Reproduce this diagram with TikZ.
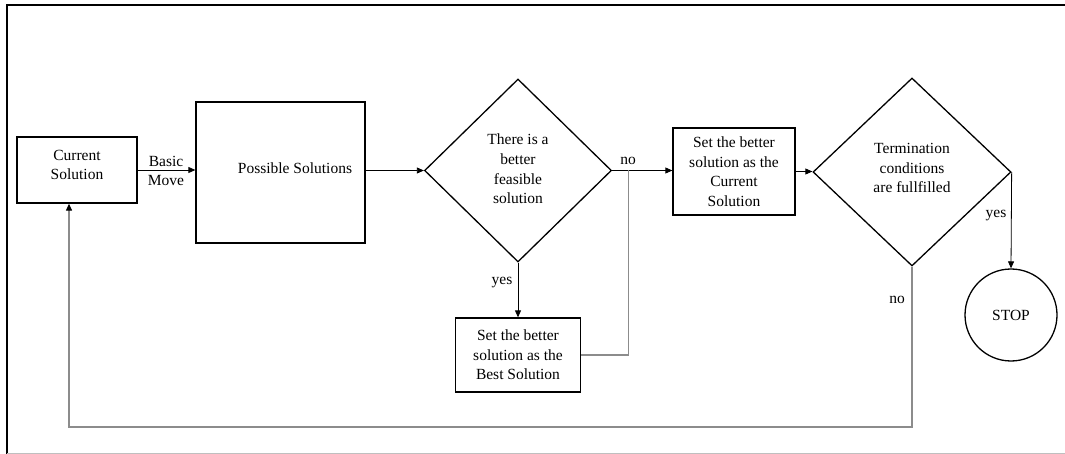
\documentclass[tikz,border=0pt]{standalone}
\usepackage{fontspec}
\setmainfont{Liberation Serif}
\usetikzlibrary{shapes.geometric,arrows.meta,calc}
\newcommand\fsz{\fontsize{15.5}{19.6}\selectfont}
\definecolor{linegray}{RGB}{140,140,140}
\begin{document}
\begin{tikzpicture}[x=1pt,y=-1pt,
  box/.style={draw, line width=1.3pt, align=center, inner sep=0pt, font=\fsz},
  dia/.style={draw, diamond, line width=1.3pt, inner sep=0pt, align=center, font=\fsz},
  lbl/.style={inner sep=0pt, align=center, font=\fsz},
  conn/.style={line width=0.8pt, -{Triangle[length=7pt,width=6pt]}},
  gconn/.style={line width=1.1pt, draw=linegray},
  gconnarr/.style={line width=1.1pt, draw=linegray, -{Triangle[length=7pt,width=6pt,color=black]}}
]
\useasboundingbox (0,0) rectangle (1065,454);
% frame
\draw[line width=2pt] (7,454) -- (7,5) -- (1065,5);
\draw[line width=1pt, black!25] (7,453) -- (1065,453);

% nodes
\node[box, minimum width=120pt, minimum height=66pt] (cur) at (77,170) {};
\node[lbl] (curt) at (77,165) {Current\\Solution};
\node[box, minimum width=169pt, minimum height=141pt] (ps) at (280.5,172.5) {};
\node[lbl] (pst) at (295,168) {Possible Solutions};
\node[dia, minimum width=187pt, minimum height=183pt] (d1) at (518,170.5) {};
\node[lbl] (d1t) at (518,169) {There is a\\better\\feasible\\solution};
\node[box, minimum width=122pt, minimum height=87pt] (cs) at (734,171.5) {Set the better\\solution as the\\Current\\Solution};
\node[box, minimum width=125pt, minimum height=74pt] (best) at (518,355) {Set the better\\solution as the\\Best Solution};
\node[dia, minimum width=198pt, minimum height=188pt] (d2) at (912,172) {};
\node[lbl] (d2t) at (912,168) {Termination\\conditions\\are fullfilled};
\node[draw, circle, line width=1.3pt, minimum size=92pt, inner sep=0pt, font=\fsz] (stop) at (1011,315) {STOP};

% connectors
\draw[conn] (cur.east) -- (cur.east -| ps.west);
\node[lbl] (bm) at (166,171) {Basic\\Move};
\draw[conn] (d1.west -| ps.east) -- (d1.west);
\draw[conn] (d1.east) -- (d1.east -| cs.west);
\node[lbl] (no1) at (628,161) {no};
\coordinate (j) at ($(d1.east)+(16,0)$);
\draw[gconn] (best.east) -- (best.east -| j) -- (j);
\draw[conn] (d1.south) -- (best.north);
\node[lbl] (yes1) at (502,283) {yes};
\draw[conn] (cs.east) -- (cs.east -| d2.west);
\draw[conn] (d2.east) -- (stop.north);
\node[lbl] (yes2) at (996,216) {yes};
\coordinate (fb) at (69,427);
\draw[gconnarr] (d2.south) |- (fb) -- (fb |- cur.south);
\node[lbl] (no2) at (897,300) {no};
\end{tikzpicture}
\end{document}
